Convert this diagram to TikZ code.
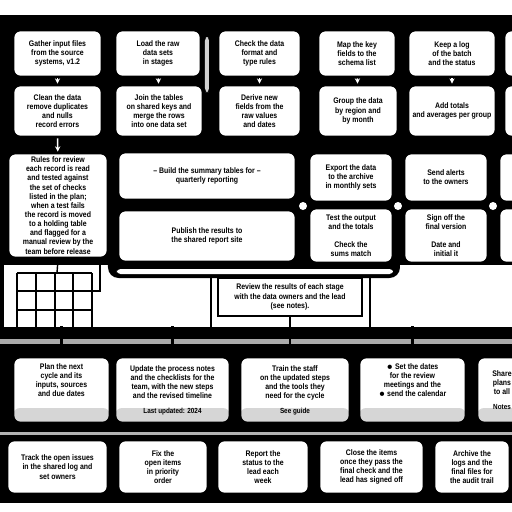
\documentclass[tikz,border=0pt]{standalone}
\usepackage{fontspec}
\setmainfont{Liberation Sans}[FakeStretch=0.86]
\usepackage{tikz}
\usetikzlibrary{arrows.meta, positioning, calc}
\definecolor{stripgray}{RGB}{214,214,214}
\definecolor{bandgray}{RGB}{170,170,170}
\newcommand{\boxfont}{\fontsize{4.6}{5.2}\selectfont\bfseries}
\newcommand{\footfont}{\fontsize{4.2}{5}\selectfont\bfseries}
\tikzset{
  box/.style={draw=black, line width=1.6pt, rounded corners=4pt, fill=white,
    align=center, font=\boxfont, inner sep=1pt},
  sz/.style 2 args={minimum width=#1*0.02cm, minimum height=#2*0.02cm},
  foot/.style={path picture={\fill[stripgray]
      ([yshift=0.3cm]path picture bounding box.south west)
      rectangle (path picture bounding box.south east);}},
  link/.style={draw=white, line width=0.9pt, -{Stealth[length=3pt,width=3pt]}},
  tick/.style={draw=black, line width=1.2pt},
  rule/.style={draw=black, line width=0.8pt},
}

\begin{document}
\begin{tikzpicture}[x=0.02cm, y=-0.02cm]
    \useasboundingbox (0,0) rectangle (512,512);
    \clip (0,0) rectangle (512,512);

    % fondo negro
    \fill[black] (0,15) rectangle (512,265);
    \fill[black, rounded corners=6pt] (108,148) rectangle (400,278);
    \fill[white, rounded corners=2pt] (117,269) rectangle (393,274);
    \fill[black] (0,265) rectangle (4,328);
    \fill[black] (0,327) rectangle (512,503);
    \fill[bandgray] (0,339) rectangle (512,344);
    \fill[gray!60] (0,432) rectangle (512,435);
    \fill[gray!35, rounded corners=2pt] (205,37) rectangle (209,92);

    % fila 1
    \node[box, sz={89}{47}] (s1a) at (57.5,53.5) {Gather input files\\from the source\\systems, v1.2};
    \node[box, sz={86}{47}] (s1b) at (158,53.5) {Load the raw\\data sets\\in stages};
    \node[box, sz={83}{47}] (s1c) at (259.5,53.5) {Check the data\\format and\\type rules};
    \node[box, sz={78}{47}] (s1d) at (357,53.5) {Map the key\\fields to the\\schema list};
    \node[box, sz={88}{47}] (s1e) at (452,53.5) {Keep a log\\of the batch\\and the status};
    \node[box, sz={56}{47}] (s1f) at (532,53.5) {};

    % fila 2
    \node[box, sz={89}{52}] (s2a) at (57.5,111) {Clean the data\\remove duplicates\\and nulls\\record errors};
    \node[box, sz={88}{52}] (s2b) at (159,111) {Join the tables\\on shared keys and\\merge the rows\\into one data set};
    \node[box, sz={83}{52}] (s2c) at (259.5,111) {Derive new\\fields from the\\raw values\\and dates};
    \node[box, sz={80}{52}] (s2d) at (358,111) {Group the data\\by region and\\by month};
    \node[box, sz={88}{52}] (s2e) at (452,111) {Add totals\\and averages per group};
    \node[box, sz={56}{52}] (s2f) at (532,111) {};

    \foreach \n in {a,b,c,d,e}
        \draw[link] (s1\n) -- (s2\n);

    % bloque central
    \node[box, sz={100}{105}] (rules) at (58,205.5) {Rules for review\\each record is read\\and tested against\\the set of checks\\listed in the plan;\\when a test fails\\the record is moved\\to a holding table\\and flagged for a\\manual review by the\\team before release};
    \node[box, sz={178}{48}] (sum) at (207,176) {-- Build the summary tables for --\\quarterly reporting};
    \node[box, sz={178}{52}] (pub) at (207,236) {Publish the results to\\the shared report site};
    \node[box, sz={84}{49}] (exp) at (351,177.5) {Export the data\\to the archive\\in monthly sets};
    \node[box, sz={84}{49}] (alert) at (446,177.5) {Send alerts\\to the owners};
    \node[box, sz={61}{49}] (save) at (529.5,177.5) {};
    \node[box, sz={84}{55}] (test) at (351,235.5) {Test the output\\and the totals\\[5pt]Check the\\sums match};
    \node[box, sz={84}{55}] (sign) at (446,235.5) {Sign off the\\final version\\[5pt]Date and\\initial it};
    \node[box, sz={61}{55}] (close) at (529.5,235.5) {};
    \foreach \p in {(303,206),(398,206),(493,206)}
        \fill[white] \p circle (4);

    \draw[link] (s2a) -- (rules);

    % rejilla
    \foreach \gx in {17,36,55,73,92}
        \draw[rule] (\gx,273) -- (\gx,330);
    \foreach \gy in {273,291,310}
        \draw[rule] (17,\gy) -- (92,\gy);
    \coordinate (gtop) at (57,273);
    \coordinate (gr1) at (100,262);
    \coordinate (gr2) at (92,291);
    \draw[rule] (rules.south) -- (gtop);
    \draw[rule] (gr1) |- (gr2);

    % nota
    \draw[rule] (211,277) -- (211,328);
    \draw[rule] (370,277) -- (370,328);
    \node[draw=black, line width=0.7pt, fill=white, sz={144}{38}, align=center,
          font=\boxfont, inner sep=1pt] (review) at (290,297)
          {Review the results of each stage\\with the data owners and the lead\\(see notes).};

    % fila 4
    \node[box, foot, sz={97}{66}] (p1) at (61.5,390) {Plan the next\\cycle and its\\inputs, sources\\and due dates\\[6pt]~};
    \node[box, foot, sz={115}{66}] (p2) at (172.5,390) {Update the process notes\\and the checklists for the\\team, with the new steps\\and the revised timeline\\[3pt]{\footfont Last updated: 2024}};
    \node[box, foot, sz={110}{66}] (p3) at (295,390) {Train the staff\\on the updated steps\\and the tools they\\need for the cycle\\[3pt]{\footfont See guide}};
    \node[box, foot, sz={107}{66}] (p4) at (412.5,390) {$\bullet$ Set the dates\\for the review\\meetings and the\\$\bullet$ send the calendar\\[6pt]~};
    \node[box, foot, sz={50}{66}] (p5) at (502,390) {Share\\plans\\to all\\[3pt]{\footfont Notes}};

    \foreach \n in {p1,p2,p4}
        \draw[tick] (\n.north) -- ++(0,-30);
    \draw[tick, -{Stealth[length=4pt,width=5pt]}] (review.south) -- (review.south |- p3.north);

    % fila 5
    \node[box, sz={101}{54}] (q1) at (57.5,467) {Track the open issues\\in the shared log and\\set owners};
    \node[box, sz={90}{54}] (q2) at (163,467) {Fix the\\open items\\in priority\\order};
    \node[box, sz={92}{54}] (q3) at (263,467) {Report the\\status to the\\lead each\\week};
    \node[box, sz={105}{54}] (q4) at (371.5,467) {Close the items\\once they pass the\\final check and the\\lead has signed off};
    \node[box, sz={76}{54}] (q5) at (472,467) {Archive the\\logs and the\\final files for\\the audit trail};
\end{tikzpicture}
\end{document}
